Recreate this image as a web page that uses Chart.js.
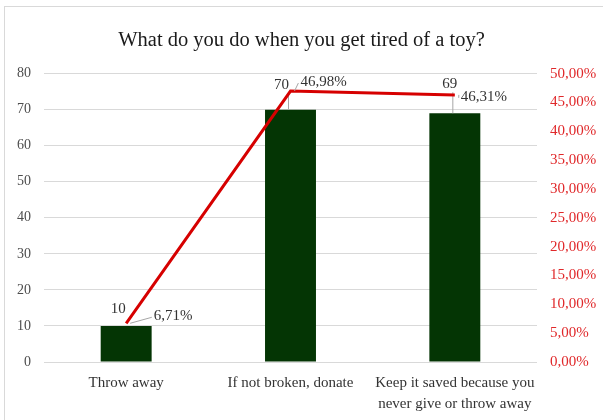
<!DOCTYPE html>
<html lang="en">
<head>
<meta charset="UTF-8" />
<title>What do you do when you get tired of a toy?</title>
<script src="https://cdn.jsdelivr.net/npm/chart.js@4.4.0/dist/chart.umd.min.js"></script>
<style>
  body { margin: 0; background: #fff; }
  #wrap { width: 603px; height: 420px; }
</style>
</head>
<body>
<div id="wrap"><canvas id="toyChart" width="603" height="420"></canvas></div>
<script>
// data
const categories = [
  "Throw away",
  "If not broken, donate",
  ["Keep it saved because you", "never give or throw away"]
];
const answerCounts = [10, 70, 69];
const answerShares = [6.71, 46.98, 46.31]; // percent

// label placement (pixels, relative to the mark)
const countLabelOffsets = [[-8, -17], [-9, -25], [-5, -29]];
const shareLabelOffsets = [[47, -7], [33, -9], [29, 2]];

const serif = "'Liberation Serif', 'Times New Roman', serif";
const fmtPct = v => v.toFixed(2).replace(".", ",") + "%";

// frame round the chart
const framePlugin = {
  id: "frame",
  beforeDraw(chart) {
    const ctx = chart.ctx;
    ctx.save();
    ctx.fillStyle = "#fff";
    ctx.fillRect(0, 0, chart.width, chart.height);
    ctx.strokeStyle = "#d9d9d9";
    ctx.lineWidth = 1;
    ctx.strokeRect(4.5, 6.5, 700, 500);
    ctx.restore();
  }
};

// data labels with small leader lines
const labelPlugin = {
  id: "valueLabels",
  afterDatasetDraw(chart, args) {
    const ctx = chart.ctx;
    ctx.save();
    ctx.fillStyle = "#333";
    ctx.strokeStyle = "#a6a6a6";
    ctx.lineWidth = 1;
    ctx.textAlign = "center";
    ctx.textBaseline = "middle";
    if (args.index === 0) {
      ctx.font = "15px " + serif;
      args.meta.data.forEach((bar, i) => {
        const [dx, dy] = countLabelOffsets[i];
        const x = bar.x + dx, y = bar.y + dy;
        ctx.fillText(String(answerCounts[i]), x, y);
        if (-dy > 20) {
          ctx.beginPath();
          ctx.moveTo(bar.x - 2, y + 8);
          ctx.lineTo(bar.x - 2, bar.y);
          ctx.stroke();
        }
      });
    } else {
      ctx.font = "15px " + serif;
      args.meta.data.forEach((pt, i) => {
        const [dx, dy] = shareLabelOffsets[i];
        const x = pt.x + dx, y = pt.y + dy;
        const txt = fmtPct(answerShares[i]);
        const w = ctx.measureText(txt).width;
        ctx.fillText(txt, x, y);
        ctx.beginPath();
        ctx.moveTo(x - w / 2 - 2, y + 1);
        ctx.lineTo(pt.x + 4, pt.y);
        ctx.stroke();
      });
    }
    ctx.restore();
  }
};

new Chart(document.getElementById("toyChart"), {
  data: {
    labels: categories,
    datasets: [
      {
        type: "bar",
        label: "Answers",
        data: answerCounts,
        yAxisID: "y",
        backgroundColor: "#043504",
        categoryPercentage: 1,
        barPercentage: 0.31,
        order: 2
      },
      {
        type: "line",
        label: "Share",
        data: answerShares,
        yAxisID: "y1",
        borderColor: "#d60000",
        borderWidth: 3,
        pointRadius: 0,
        tension: 0,
        order: 1
      }
    ]
  },
  options: {
    responsive: false,
    animation: false,
    layout: { padding: { left: 0, right: 0, top: 0, bottom: 0 } },
    plugins: {
      legend: { display: false },
      tooltip: { enabled: false },
      title: {
        display: true,
        text: "What do you do when you get tired of a toy?",
        color: "#1a1a1a",
        font: { family: serif, size: 20.5, weight: "normal" },
        padding: { top: 28, bottom: 21 }
      }
    },
    scales: {
      x: {
        grid: { display: false },
        border: { display: false },
        ticks: {
          color: "#333",
          font: { family: serif, size: 15, lineHeight: 1.4 },
          padding: 3,
          maxRotation: 0,
          autoSkip: false
        },
        afterFit(s) { s.height = 58; }
      },
      y: {
        position: "left",
        min: 0,
        max: 80,
        grid: { color: "#d9d9d9", drawTicks: false },
        border: { display: false },
        ticks: {
          stepSize: 10,
          color: "#4d4d4d",
          font: { family: serif, size: 14 },
          padding: 13
        },
        afterFit(s) { s.width = 44; }
      },
      y1: {
        position: "right",
        min: 0,
        max: 50,
        grid: { display: false, drawTicks: false },
        border: { display: false },
        ticks: {
          stepSize: 5,
          color: "#e0282a",
          font: { family: serif, size: 15 },
          padding: 13,
          callback: v => fmtPct(v)
        },
        afterFit(s) { s.width = 66; }
      }
    }
  },
  plugins: [framePlugin, labelPlugin]
});
</script>
</body>
</html>
